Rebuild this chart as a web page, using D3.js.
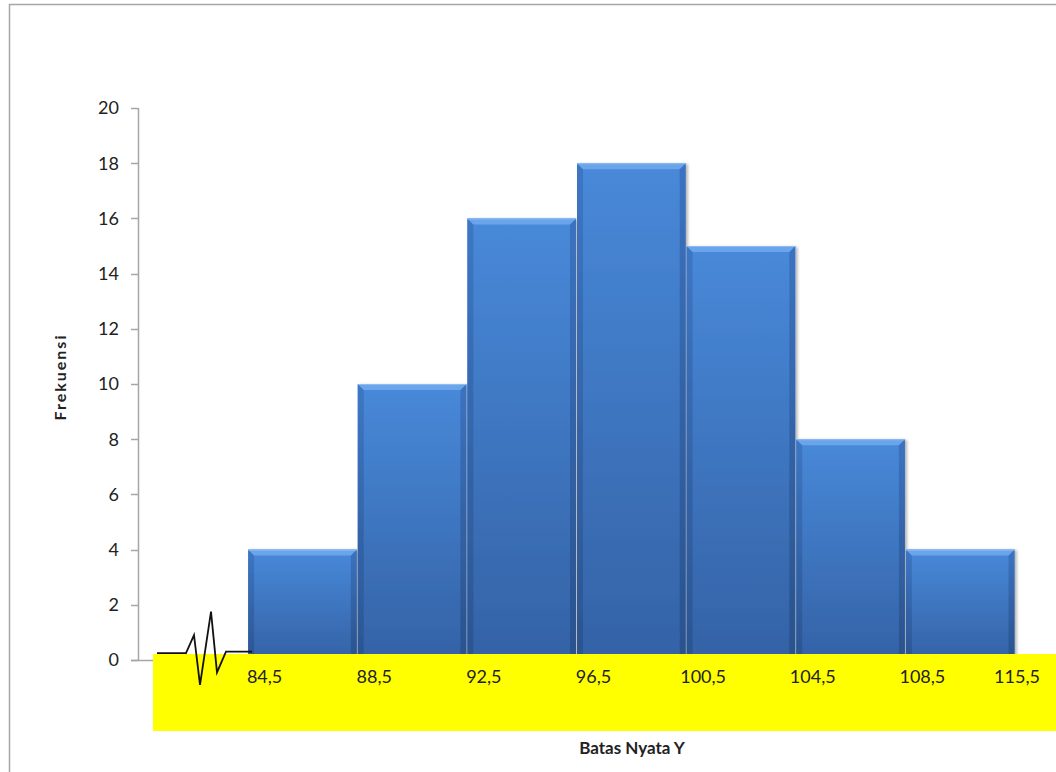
<!DOCTYPE html>
<html>
<head>
<meta charset="utf-8">
<script src="https://cdn.jsdelivr.net/npm/d3@7"></script>
<style>
  html, body { margin: 0; padding: 0; background: #ffffff; }
  svg { display: block; }
</style>
</head>
<body>
<svg id="chart" width="1056" height="772"></svg>
<script>
// Class boundaries (batas nyata) and frequency of each class
const boundaries = ["84,5", "88,5", "92,5", "96,5", "100,5", "104,5", "108,5", "115,5"];
const frequencies = [4, 10, 16, 18, 15, 8, 4];
const yTicks = [0, 2, 4, 6, 8, 10, 12, 14, 16, 18, 20];
// Slot 0 is left empty so the histogram starts after the axis break
const slots = ["", "c1", "c2", "c3", "c4", "c5", "c6", "c7"];
// Axis-break zigzag drawn beside the origin (x in pixels from break start, y in value units)
const breakPath = [[0, 0.25], [29, 0.25], [37, 0.9], [43, -0.9], [54, 1.75], [60, -0.45], [69, 0.3], [95, 0.3]];

const svg = d3.select("#chart");
const font = "Lato, 'Open Sans', 'DejaVu Sans', sans-serif";

const plot = { left: 138, right: 1015, top: 108, bottom: 660 };

const x = d3.scaleBand().domain(slots).range([plot.left, plot.right]).padding(0);
const y = d3.scaleLinear().domain([0, 20]).range([plot.bottom, plot.top]);

// Outer chart frame
svg.append("path")
  .attr("d", "M9.5,772 L9.5,4.5 L1056,4.5")
  .attr("fill", "none")
  .attr("stroke", "#a6a6a6")
  .attr("stroke-width", 1.5);

const defs = svg.append("defs");
const grad = defs.append("linearGradient").attr("id", "barFill")
  .attr("x1", 0).attr("y1", 0).attr("x2", 0).attr("y2", 1);
grad.append("stop").attr("offset", "0%").attr("stop-color", "#4889d9");
grad.append("stop").attr("offset", "100%").attr("stop-color", "#3462a6");

const sideGrad = defs.append("linearGradient").attr("id", "sideFill")
  .attr("x1", 0).attr("y1", 0).attr("x2", 0).attr("y2", 1);
sideGrad.append("stop").attr("offset", "0%").attr("stop-color", "#3a70bd");
sideGrad.append("stop").attr("offset", "100%").attr("stop-color", "#28508a");

const shadow = defs.append("filter").attr("id", "shadow")
  .attr("x", "-10%").attr("y", "-10%").attr("width", "130%").attr("height", "130%");
shadow.append("feDropShadow").attr("dx", 2).attr("dy", 1).attr("stdDeviation", 1.5)
  .attr("flood-color", "#000").attr("flood-opacity", 0.3);

// Y axis
const yAxisG = svg.append("g").attr("transform", `translate(${plot.left},0)`);
yAxisG.append("line")
  .attr("x1", 0.5).attr("x2", 0.5)
  .attr("y1", y(20)).attr("y2", y(0))
  .attr("stroke", "#a6a6a6").attr("stroke-width", 1.5);
yAxisG.selectAll("line.tick").data(yTicks).enter().append("line")
  .attr("class", "tick")
  .attr("x1", -7).attr("x2", 0)
  .attr("y1", d => Math.round(y(d)) + 0.5).attr("y2", d => Math.round(y(d)) + 0.5)
  .attr("stroke", "#a6a6a6").attr("stroke-width", 1.5);
yAxisG.selectAll("text").data(yTicks).enter().append("text")
  .attr("x", -19).attr("y", d => y(d)).attr("dy", "0.36em")
  .attr("text-anchor", "end")
  .attr("font-family", font).attr("font-size", 18).attr("fill", "#222")
  .text(d => d);

// X axis baseline
svg.append("line")
  .attr("x1", plot.left - 7).attr("x2", plot.right)
  .attr("y1", y(0) + 0.5).attr("y2", y(0) + 0.5)
  .attr("stroke", "#a6a6a6").attr("stroke-width", 1.5);

// Histogram bars with a bevelled look
const bars = svg.append("g").selectAll("g.bar").data(frequencies).enter().append("g")
  .attr("class", "bar")
  .attr("filter", "url(#shadow)");

bars.each(function(d, i) {
  const g = d3.select(this);
  const x0 = x(slots[i + 1]) + 0.5;
  const x1 = x(slots[i + 1]) + x.bandwidth() - 0.5;
  const top = y(d);
  const bot = y(0);
  const b = 6;
  g.append("rect")
    .attr("x", x0).attr("y", top)
    .attr("width", x1 - x0).attr("height", bot - top)
    .attr("fill", "url(#barFill)");
  // left and right bevel edges
  g.append("path")
    .attr("d", `M${x0},${top} L${x0 + b},${top + b} L${x0 + b},${bot} L${x0},${bot}Z`)
    .attr("fill", "url(#sideFill)").attr("opacity", 0.75);
  g.append("path")
    .attr("d", `M${x1},${top} L${x1 - b},${top + b} L${x1 - b},${bot} L${x1},${bot}Z`)
    .attr("fill", "url(#sideFill)").attr("opacity", 0.9);
  // top bevel highlight
  g.append("path")
    .attr("d", `M${x0},${top} L${x1},${top} L${x1 - b},${top + b} L${x0 + b},${top + b}Z`)
    .attr("fill", "#6aa5ec");
  g.append("line")
    .attr("x1", x0).attr("x2", x1).attr("y1", top + 0.5).attr("y2", top + 0.5)
    .attr("stroke", "#8fbdf2").attr("stroke-width", 1);
});

// Yellow label strip under the bars
const strip = { x0: 153, y0: y(0) - 6, y1: y(0) + 71 };
svg.append("rect")
  .attr("x", strip.x0).attr("y", strip.y0)
  .attr("width", 1056 - strip.x0).attr("height", strip.y1 - strip.y0)
  .attr("fill", "#ffff00");

// Axis break marker
const breakLine = d3.line()
  .x(p => 157 + p[0])
  .y(p => y(p[1]));
svg.append("path")
  .attr("d", breakLine(breakPath))
  .attr("fill", "none")
  .attr("stroke", "#111")
  .attr("stroke-width", 1.8)
  .attr("stroke-linejoin", "miter");

// Boundary labels at the edges of each class
const edgeX = i => (i < frequencies.length ? x(slots[i + 1]) + 17 : x(slots[i]) + x.bandwidth() + 2);
svg.append("g").selectAll("text").data(boundaries).enter().append("text")
  .attr("x", (d, i) => edgeX(i))
  .attr("y", y(0) + 23)
  .attr("text-anchor", "middle")
  .attr("font-family", font).attr("font-size", 18).attr("fill", "#222")
  .text(d => d);

// Axis titles
svg.append("text")
  .attr("x", 632).attr("y", 754)
  .attr("text-anchor", "middle")
  .attr("font-family", font).attr("font-size", 17).attr("font-weight", "bold").attr("fill", "#222")
  .text("Batas Nyata Y");

svg.append("text")
  .attr("transform", "translate(66,377) rotate(-90)")
  .attr("text-anchor", "middle")
  .attr("font-family", font).attr("font-size", 16).attr("font-weight", "bold")
  .attr("letter-spacing", 2).attr("fill", "#222")
  .text("Frekuensi");
</script>
</body>
</html>
